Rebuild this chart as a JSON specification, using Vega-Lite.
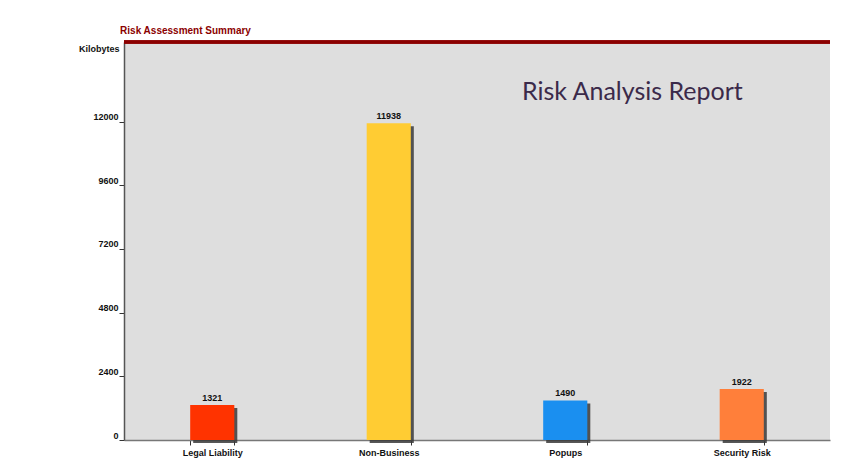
{
  "$schema": "https://vega.github.io/schema/vega-lite/v6.json",
  "autosize": {"type": "none"},
  "width": 706,
  "height": 398,
  "padding": {"left": 124, "top": 42, "right": 22, "bottom": 32},
  "background": "#ffffff",
  "title": {
    "text": "Risk Analysis Report",
    "anchor": "start",
    "frame": "group",
    "orient": "top",
    "offset": 0,
    "dx": 398,
    "dy": 100,
    "baseline": "alphabetic",
    "font": "Lato",
    "fontSize": 25,
    "fontWeight": "normal",
    "color": "#3b2a4a"
  },
  "config": {
    "view": {"fill": "#dedede", "stroke": null},
    "font": "Liberation Sans"
  },
  "data": {
    "values": [
      {"category": "Legal Liability", "kb": 1321},
      {"category": "Non-Business", "kb": 11938},
      {"category": "Popups", "kb": 1490},
      {"category": "Security Risk", "kb": 1922}
    ]
  },
  "encoding": {
    "x": {
      "field": "category",
      "type": "nominal",
      "sort": null,
      "scale": {"paddingInner": 0.75, "paddingOuter": 0.375},
      "axis": {
        "title": "Risk Assessment Summary",
        "titleX": 61,
        "titleY": -410,
        "titleAlign": "center",
        "titleBaseline": "middle",
        "titleColor": "#8b0000",
        "titleFont": "Liberation Sans",
        "titleFontSize": 10,
        "titleFontWeight": "bold",
        "labelAngle": 0,
        "labelFont": "Liberation Sans",
        "labelFontSize": 9,
        "labelFontWeight": "bold",
        "labelColor": "#111111",
        "labelPadding": 3,
        "tickBand": "extent",
        "tickSize": 5,
        "tickColor": "#333333",
        "domainColor": "#777777",
        "domainWidth": 1.5
      }
    },
    "y": {
      "field": "kb",
      "type": "quantitative",
      "scale": {"domain": [0, 15000], "nice": false},
      "axis": {
        "values": [0, 2400, 4800, 7200, 9600, 12000],
        "format": "d",
        "title": "Kilobytes",
        "titleAngle": 0,
        "titleAlign": "right",
        "titleBaseline": "middle",
        "titleX": -5,
        "titleY": 6,
        "titleFont": "Liberation Sans",
        "titleFontSize": 9,
        "titleFontWeight": "bold",
        "titleColor": "#111111",
        "labelFont": "Liberation Sans",
        "labelFontSize": 9,
        "labelFontWeight": "bold",
        "labelColor": "#111111",
        "labelBaseline": "bottom",
        "labelPadding": 1,
        "tickSize": 5,
        "tickColor": "#333333",
        "domainColor": "#555555",
        "domainWidth": 1.5,
        "grid": false
      }
    }
  },
  "layer": [
    {
      "mark": {"type": "rule", "color": "#8b0000", "strokeWidth": 3, "clip": false},
      "encoding": {"y": {"datum": 15000}, "x": null}
    },
    {
      "mark": {"type": "bar", "color": "#3a3a3a", "xOffset": 3, "yOffset": 3, "y2Offset": 0, "opacity": 0.85}
    },
    {
      "mark": {"type": "bar"},
      "encoding": {
        "color": {
          "field": "category",
          "type": "nominal",
          "scale": {
            "domain": ["Legal Liability", "Non-Business", "Popups", "Security Risk"],
            "range": ["#ff3300", "#ffcc33", "#1a8ff0", "#ff7f3a"]
          },
          "legend": null
        }
      }
    },
    {
      "mark": {"type": "text", "dy": -7, "font": "Liberation Sans", "fontSize": 9, "fontWeight": "bold", "color": "#111111"},
      "encoding": {"text": {"field": "kb", "type": "quantitative", "format": "d"}}
    }
  ]
}
